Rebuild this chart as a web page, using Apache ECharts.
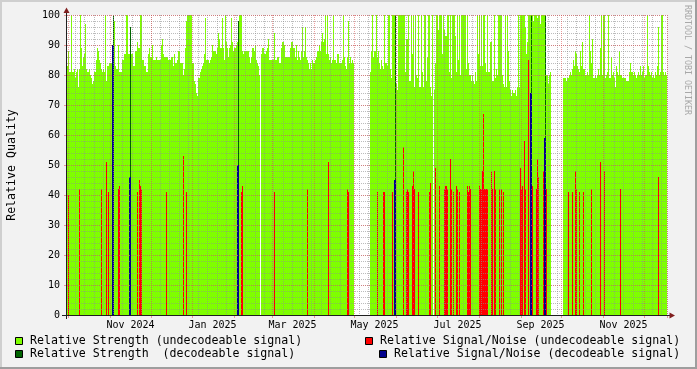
<!DOCTYPE html>
<html><head><meta charset="utf-8">
<script src="https://cdn.jsdelivr.net/npm/echarts@6/dist/echarts.min.js"></script>
<style>html,body{margin:0;padding:0;background:#F2F2F2;}#c{width:697px;height:369px;}</style>
</head><body><div id="c"></div>
<script>
// ---- time axis: one category per consolidated sample (pixel column of the RRD graph)
const SAMPLE_COUNT = 600;
const startTime = Date.UTC(2024, 8, 30, 4, 0, 0);
const sampleSeconds = 63962;
const tickLabels = ['Nov 2024','Jan 2025','Mar 2025','May 2025','Jul 2025','Sep 2025','Nov 2025'];
const tickLabelDates = ['2024-11-16','2025-01-16','2025-03-16','2025-05-16','2025-07-16','2025-09-16','2025-11-16'];
const yTicks = [0,10,20,30,40,50,60,70,80,90,100];

// ---- Relative Strength (undecodeable signal): one value per sample, null = no data
const strengthUndecodeable = [
 83,88,81,81,100,81,81,82,79,81,
 82,76,82,100,89,83,86,87,97,82,
 81,81,82,80,79,77,78,81,81,85,
 89,88,85,84,82,81,82,81,100,78,
 83,83,84,84,84,84,84,98,83,82,
 82,90,81,81,81,85,85,87,87,100,
 100,87,87,87,87,87,83,83,88,88,
 91,89,89,100,100,85,85,83,83,81,
 81,87,89,86,86,90,85,85,85,86,
 85,85,85,85,90,92,87,86,86,86,
 86,85,85,85,86,86,83,87,84,84,
 85,88,88,84,84,84,80,82,89,98,
 100,100,100,100,100,84,84,78,77,74,
 73,79,79,81,82,83,84,87,99,85,
 85,85,84,85,86,90,88,88,88,87,
 89,94,92,89,89,99,89,85,100,91,
 89,86,89,90,99,91,88,89,89,90,
 91,91,100,100,100,88,87,88,88,88,
 88,88,86,84,86,89,89,88,90,85,
 84,83,80,null,87,89,89,87,87,88,
 89,92,85,85,85,85,85,94,85,85,
 86,86,84,84,89,91,91,90,86,86,
 86,86,86,89,91,91,89,89,86,90,
 85,88,86,85,88,96,86,88,96,86,
 85,84,82,84,82,85,84,84,85,86,
 88,88,90,88,91,94,91,92,100,87,
 100,87,85,86,84,85,100,85,85,84,
 87,87,84,84,84,85,100,86,83,82,
 86,98,84,86,84,85,84,null,null,null,
 null,null,null,null,null,null,null,null,null,null,
 null,null,null,81,88,100,86,88,88,100,
 86,88,84,82,85,83,82,100,84,84,
 83,100,100,82,79,100,100,100,100,77,
 75,100,100,100,100,100,100,100,81,92,
 92,100,78,78,100,87,100,76,100,80,
 79,100,76,76,100,81,76,100,100,78,
 86,100,100,76,73,100,null,75,84,100,
 100,95,100,100,100,87,100,95,93,93,
 100,100,81,100,79,100,100,100,93,81,
 100,85,100,80,100,100,100,100,100,82,
 100,84,80,80,78,80,78,77,81,78,
 100,87,100,83,100,83,100,100,84,81,
 100,81,81,91,91,78,78,100,79,82,
 80,100,100,100,100,80,77,76,100,76,
 100,88,78,75,73,75,74,74,75,73,
 76,100,76,100,100,100,100,100,96,87,
 91,100,100,100,100,100,98,100,100,100,
 99,100,100,97,100,100,100,100,100,80,
 80,77,80,81,null,null,null,null,null,null,
 null,null,null,null,null,null,79,79,79,78,
 79,79,80,81,80,82,85,83,88,87,
 83,82,81,88,83,91,82,82,80,80,
 81,80,100,88,84,92,79,79,80,79,
 80,82,80,89,100,80,100,100,79,80,
 81,100,79,79,86,80,81,79,76,83,
 81,80,88,80,80,79,79,79,79,78,
 78,78,81,84,81,81,80,81,80,79,
 80,81,80,83,80,81,83,79,80,80,
 100,83,81,80,81,79,80,79,81,80,
 83,96,80,81,100,100,81,80,81,80
];

// ---- sparse series: [sample index, value]
const strengthDecodeable = [[46,100],[63,96],[171,98],[328,100],[464,100],[478,100]];
const snrDecodeable = [[45,90],[46,90],[62,46],[63,46],[170,50],[171,50],[327,45],[328,45],[463,74],[464,74],[477,59],[478,59]];
const snrUndecodeable = [
 [1,40],[12,42],[34,42],[39,51],[41,41],[51,42],[52,43],[70,41],[72,45],[73,43],[74,42],
 [99,41],[116,53],[119,41],[174,41],[175,43],[207,41],[240,42],[261,51],[280,42],[281,41],
 [310,41],[316,41],[317,41],[325,41],[336,56],[339,41],[340,42],[341,41],[345,43],[346,48],[347,42],
 [351,41],[362,41],[363,44],[368,49],[372,43],[377,42],[378,43],[379,43],[380,42],[383,52],[384,42],
 [386,41],[389,43],[390,42],[392,41],[400,43],[401,41],[402,43],[403,42],[412,43],[413,42],[414,42],
 [415,48],[416,67],[417,42],[418,42],[419,42],[420,42],[424,48],[425,42],[427,48],[428,42],[432,42],
 [434,42],[436,41],[453,49],[454,42],[455,43],[457,58],[458,42],[461,85],[465,43],[469,42],[470,52],
 [471,46],[476,48],[479,42],[501,41],[505,41],[508,48],[509,42],[512,41],[516,41],[524,42],[533,51],
 [537,48],[553,42],[591,46]
];

// ---- build tables
const stepMs = sampleSeconds * 1000;
const categories = Array.from({length: SAMPLE_COUNT}, (_, i) => String(startTime + i * stepMs));
function sparseToFull(list){ const a = new Array(SAMPLE_COUNT).fill(null); list.forEach(([i,v]) => { a[i] = v; }); return a; }
const colAt = ms => (ms - startTime) / stepMs;
const monthCols = new Set();
for (let y = 2024; y <= 2025; y++) for (let m = 0; m < 12; m++) {
  const c = Math.round(colAt(Date.UTC(y, m, 1)));
  if (c >= 0 && c < SAMPLE_COUNT) monthCols.add(c);
}
const weekCols = new Set();
for (let t = Date.UTC(2024, 8, 29); t < startTime + SAMPLE_COUNT * stepMs; t += 7 * 86400000) {
  const c = Math.round(colAt(t));
  if (c >= 0 && c < SAMPLE_COUNT) weekCols.add(c);
}
const labelByCol = new Map();
tickLabelDates.forEach((d, k) => { const p = d.split('-').map(Number); labelByCol.set(Math.floor(colAt(Date.UTC(p[0], p[1]-1, p[2]))), tickLabels[k]); });

const FONT = "'DejaVu Sans Mono', monospace";
const GRID = 'rgba(143,143,143,0.6)';
const MGRID = 'rgba(222,79,79,0.55)';
const C_LG = '#7FFF00', C_DG = '#006400', C_RED = '#FF0000', C_BLUE = '#00008B';

function barSeries(name, data, color) {
  return { type: 'bar', name, data, xAxisIndex: 0, yAxisIndex: 0, large: false, silent: true,
    barGap: '-100%', barCategoryGap: '0%', itemStyle: { color }, z: 2, animation: false };
}

function legendItem(x, y, color, text, tx) {
  return [
    { type: 'rect', z: 100, shape: { x: x + 0.5, y: y + 0.5, width: 7, height: 7 }, style: { fill: color, stroke: '#000', lineWidth: 1 } },
    { type: 'text', z: 100, x: tx, y: y + 4, style: { text, fill: '#000', font: "11.6px " + FONT, verticalAlign: 'middle', align: 'left' } }
  ];
}

const chart = echarts.init(document.getElementById('c'), null, { renderer: 'canvas' });
chart.setOption({
  backgroundColor: '#F2F2F2',
  animation: false,
  textStyle: { fontFamily: FONT },
  grid: { left: 67, top: 15, width: 600, height: 300, show: true, backgroundColor: '#FFFFFF', borderWidth: 0 },
  xAxis: [
    { type: 'category', data: categories, boundaryGap: true, position: 'bottom', z: 5,
      axisLine: { show: false },
      axisTick: { show: true, interval: i => monthCols.has(i), length: 3, lineStyle: { color: MGRID } },
      axisLabel: { show: true, interval: i => labelByCol.has(i), formatter: (v, i) => labelByCol.get(i) || '',
        margin: 5, fontFamily: FONT, fontSize: 10, color: '#000' },
      splitLine: { show: true, interval: i => monthCols.has(i), lineStyle: { color: MGRID, type: [1, 1], width: 1 } } },
    { type: 'category', data: categories, boundaryGap: true, position: 'bottom', z: 4,
      axisLine: { show: false }, axisTick: { show: false }, axisLabel: { show: false },
      splitLine: { show: true, interval: i => weekCols.has(i), lineStyle: { color: GRID, type: [1, 1], width: 1 } } }
  ],
  yAxis: [
    { type: 'value', min: yTicks[0], max: yTicks[yTicks.length-1], interval: 10, z: 5,
      axisLine: { show: false },
      axisTick: { show: true, length: 3, lineStyle: { color: MGRID } },
      axisLabel: { margin: 7, fontFamily: FONT, fontSize: 10, color: '#000' },
      splitLine: { show: true, lineStyle: { color: MGRID, type: [1, 1], width: 1 } } },
    { type: 'value', min: 0, max: 100, interval: 2, z: 4,
      axisLine: { show: false }, axisTick: { show: false }, axisLabel: { show: false },
      splitLine: { show: true, lineStyle: { color: GRID, type: [1, 1], width: 1 } } }
  ],
  series: [
    barSeries('Relative Strength (undecodeable signal)', strengthUndecodeable, C_LG),
    barSeries('Relative Strength  (decodeable signal)', sparseToFull(strengthDecodeable), C_DG),
    barSeries('Relative Signal/Noise (undecodeable signal)', sparseToFull(snrUndecodeable), C_RED),
    barSeries('Relative Signal/Noise (decodeable signal)', sparseToFull(snrDecodeable), C_BLUE)
  ],
  graphic: [
    { type: 'rect', z: 100, shape: { x: 0, y: 0, width: 697, height: 2 }, style: { fill: '#CFCFCF' } },
    { type: 'rect', z: 100, shape: { x: 0, y: 0, width: 2, height: 369 }, style: { fill: '#CFCFCF' } },
    { type: 'rect', z: 100, shape: { x: 0, y: 367, width: 697, height: 2 }, style: { fill: '#9E9E9E' } },
    { type: 'rect', z: 100, shape: { x: 695, y: 0, width: 2, height: 369 }, style: { fill: '#9E9E9E' } },
    { type: 'line', z: 100, shape: { x1: 66.5, y1: 319, x2: 66.5, y2: 12 }, style: { stroke: '#1F1F1F', lineWidth: 1 } },
    { type: 'line', z: 100, shape: { x1: 62, y1: 315.5, x2: 670, y2: 315.5 }, style: { stroke: '#1F1F1F', lineWidth: 1 } },
    { type: 'polygon', z: 100, shape: { points: [[66.5, 7.5], [63.5, 13], [69.5, 13]] }, style: { fill: '#801F1F' } },
    { type: 'polygon', z: 100, shape: { points: [[675, 315.5], [669.5, 312.5], [669.5, 318.5]] }, style: { fill: '#801F1F' } },
    { type: 'text', z: 100, x: 12, y: 165, rotation: Math.PI / 2,
      style: { text: 'Relative Quality', fill: '#000', font: "11.6px " + FONT, align: 'center', verticalAlign: 'middle' } },
    { type: 'text', z: 100, x: 687, y: 60, rotation: -Math.PI / 2,
      style: { text: 'RRDTOOL / TOBI OETIKER', fill: '#A8A8A8', font: "8.3px " + FONT, align: 'center', verticalAlign: 'middle' } },
    ...legendItem(15, 337, C_LG, 'Relative Strength (undecodeable signal)', 30),
    ...legendItem(15, 350, C_DG, 'Relative Strength  (decodeable signal)', 30),
    ...legendItem(365, 337, C_RED, 'Relative Signal/Noise (undecodeable signal)', 380),
    ...legendItem(379, 350, C_BLUE, 'Relative Signal/Noise (decodeable signal)', 394)
  ]
});
</script>
</body></html>
